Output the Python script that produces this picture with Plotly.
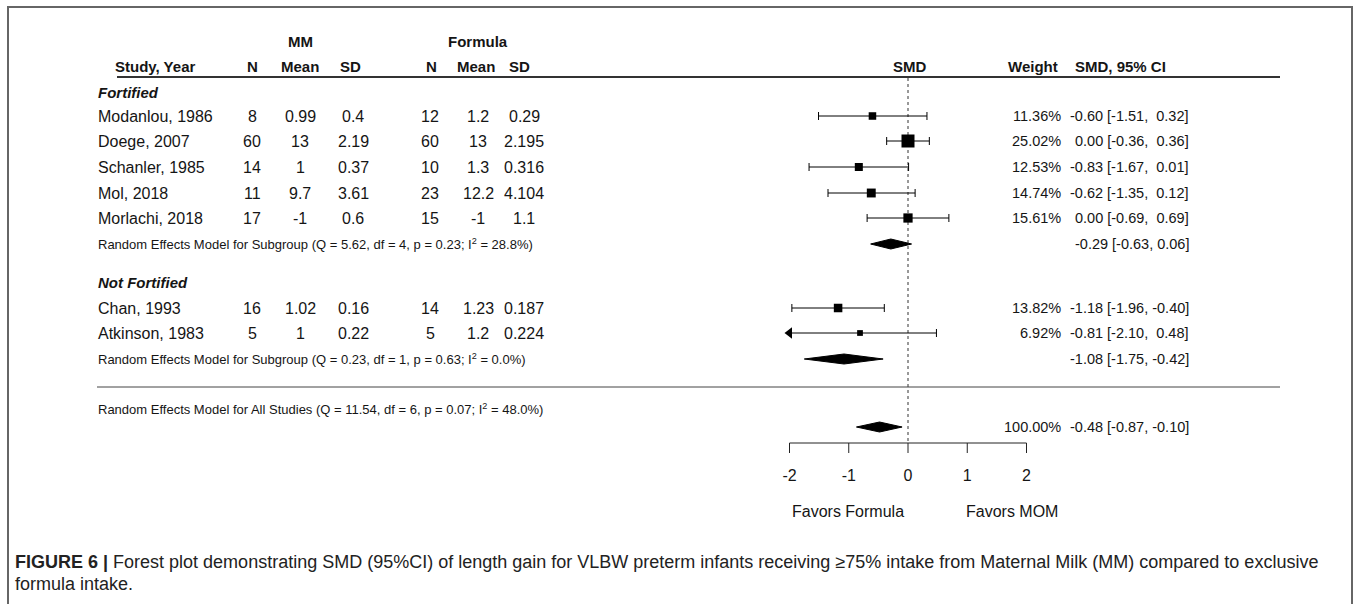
import plotly.graph_objects as go

# ---------------- data ----------------
studies = ["Modanlou, 1986", "Doege, 2007", "Schanler, 1985", "Mol, 2018",
           "Morlachi, 2018", "Chan, 1993", "Atkinson, 1983"]
group = ["Fortified"] * 5 + ["Not Fortified"] * 2
mm_n = [8, 60, 14, 11, 17, 16, 5]
mm_mean = [0.99, 13, 1, 9.7, -1, 1.02, 1]
mm_sd = [0.4, 2.19, 0.37, 3.61, 0.6, 0.16, 0.22]
f_n = [12, 60, 10, 23, 15, 14, 5]
f_mean = [1.2, 13, 1.3, 12.2, -1, 1.23, 1.2]
f_sd = [0.29, 2.195, 0.316, 4.104, 1.1, 0.187, 0.224]
weight = [11.36, 25.02, 12.53, 14.74, 15.61, 13.82, 6.92]
smd = [-0.60, 0.00, -0.83, -0.62, 0.00, -1.18, -0.81]
ci_lo = [-1.51, -0.36, -1.67, -1.35, -0.69, -1.96, -2.10]
ci_hi = [0.32, 0.36, 0.01, 0.12, 0.69, -0.40, 0.48]

sub_names = ["Fortified", "Not Fortified"]
sub_est = [-0.29, -1.08]
sub_lo = [-0.63, -1.75]
sub_hi = [0.06, -0.42]
sub_label = ["Random Effects Model for Subgroup (Q = 5.62, df = 4, p = 0.23; I<sup>2</sup> = 28.8%)",
             "Random Effects Model for Subgroup (Q = 0.23, df = 1, p = 0.63; I<sup>2</sup> = 0.0%)"]
all_est, all_lo, all_hi = -0.48, -0.87, -0.10
all_weight = 100.0
all_label = "Random Effects Model for All Studies (Q = 11.54, df = 6, p = 0.07; I<sup>2</sup> = 48.0%)"

tick_vals = [-2, -1, 0, 1, 2]
alim = (-2, 2)

# ---------------- layout helpers ----------------
W, H = 1357, 604
X0PX, UNIT = 908.0, 59.25          # pixel of SMD=0 and px per SMD unit
xr = [(0 - X0PX) / UNIT, (W - X0PX) / UNIT]


def P(px):
    return px / W


study_y = [116, 141, 167, 193, 218, 308, 333]
group_y = [92, 282]
sub_y = [244, 359]
all_text_y = 409
all_y = 427
axis_y = 443
FONT = "Liberation Sans, Arial, sans-serif"
TXT = "#151515"
INK = "#000000"
NB = "\u00a0"

fig = go.Figure()

# reference line
fig.add_trace(go.Scatter(x=[0, 0], y=[78, axis_y], mode="lines",
                         line=dict(color="#333", width=1, dash="dot"),
                         hoverinfo="skip", showlegend=False))

# CI lines
lx, ly, cx, cy, ax, ay = [], [], [], [], [], []
for e, lo, hi, y in zip(smd, ci_lo, ci_hi, study_y):
    a = max(lo, alim[0]); b = min(hi, alim[1])
    lx += [a, b, None]; ly += [y, y, None]
    for v, clipped in ((lo, lo < alim[0]), (hi, hi > alim[1])):
        if clipped:
            ax.append(a if v < alim[0] else b); ay.append(y)
        else:
            cx += [v, v, None]; cy += [y - 4, y + 4, None]
fig.add_trace(go.Scatter(x=lx, y=ly, mode="lines", line=dict(color=INK, width=1),
                         hoverinfo="skip", showlegend=False))
fig.add_trace(go.Scatter(x=cx, y=cy, mode="lines", line=dict(color=INK, width=1),
                         hoverinfo="skip", showlegend=False))
if ax:
    fig.add_trace(go.Scatter(x=ax, y=ay, mode="markers",
                             marker=dict(symbol="triangle-left", size=10, color=INK),
                             hoverinfo="skip", showlegend=False))

# squares
fig.add_trace(go.Scatter(x=smd, y=study_y, mode="markers",
                         marker=dict(symbol="square", color=INK, opacity=1,
                                     size=[3 + 0.4 * w for w in weight], line=dict(width=0)),
                         showlegend=False))


# diamonds
def diamond(est, lo, hi, y, h=5):
    fig.add_trace(go.Scatter(x=[lo, est, hi, est, lo], y=[y, y - h, y, y + h, y],
                             mode="lines", fill="toself", fillcolor=INK,
                             line=dict(color=INK, width=1), hoverinfo="skip",
                             showlegend=False))


for e, lo, hi, y in zip(sub_est, sub_lo, sub_hi, sub_y):
    diamond(e, lo, hi, y)
diamond(all_est, all_lo, all_hi, all_y)

# x axis (R style)
fig.add_trace(go.Scatter(x=[alim[0], alim[1]], y=[axis_y, axis_y], mode="lines",
                         line=dict(color="#222", width=1), hoverinfo="skip", showlegend=False))
tx, ty = [], []
for t in tick_vals:
    tx += [t, t, None]; ty += [axis_y, axis_y + 10, None]
fig.add_trace(go.Scatter(x=tx, y=ty, mode="lines", line=dict(color="#222", width=1),
                         hoverinfo="skip", showlegend=False))
fig.add_trace(go.Scatter(x=tick_vals, y=[477] * len(tick_vals), mode="text",
                         text=[str(t) for t in tick_vals],
                         textfont=dict(family=FONT, size=16, color=TXT),
                         hoverinfo="skip", showlegend=False))

ann = []


def T(txt, xpx, ypx, anchor="center", size=16, bold=False, italic=False, color=TXT):
    if bold:
        txt = "<b>" + txt + "</b>"
    if italic:
        txt = "<i>" + txt + "</i>"
    ann.append(dict(x=P(xpx), y=ypx, xref="paper", yref="y", text=txt, showarrow=False,
                    xanchor=anchor, yanchor="middle", borderpad=0,
                    font=dict(family=FONT, size=size, color=color)))


def ci_text(e, lo, hi, pad=True):
    sp = NB if (pad and hi >= 0) else ""
    return "{:.2f}{}[{:.2f},{}{}{:.2f}]".format(e, NB, lo, NB, sp, hi)


# headers
T("MM", 300, 41, bold=True, size=15)
T("Formula", 478, 41, bold=True, size=15)
for txt, xp in [("Study, Year", 155), ("N", 252), ("Mean", 300), ("SD", 350),
                ("N", 431), ("Mean", 476), ("SD", 519), ("SMD", 910),
                ("Weight", 1033), ("SMD, 95% CI", 1120)]:
    T(txt, xp, 66, bold=True, size=15)

for g, y in zip(sub_names, group_y):
    T(g, 97, y, anchor="left", bold=True, italic=True, size=15)

cols = [(mm_n, 252), (mm_mean, 300), (mm_sd, 353), (f_n, 430), (f_mean, 478), (f_sd, 524)]
for i, y in enumerate(study_y):
    T(studies[i], 97, y, anchor="left")
    for arr, xp in cols:
        T("{:g}".format(arr[i]), xp, y)
    T("{:.2f}%".format(weight[i]), 1062, y, anchor="right", size=14.5)
    T(ci_text(smd[i], ci_lo[i], ci_hi[i]), 1190, y, anchor="right", size=14.5)

for lab, e, lo, hi, y in zip(sub_label, sub_est, sub_lo, sub_hi, sub_y):
    T(lab, 97, y, anchor="left", size=13)
    T(ci_text(e, lo, hi, pad=False), 1190, y, anchor="right", size=14.5)

T(all_label, 97, all_text_y, anchor="left", size=13)
T("{:.2f}%".format(all_weight), 1062, all_y, anchor="right", size=14.5)
T(ci_text(all_est, all_lo, all_hi, pad=False), 1190, all_y, anchor="right", size=14.5)

T("Favors Formula", 848, 511)
T("Favors MOM", 1012, 511)

# caption
ann.append(dict(x=P(14), y=562, xref="paper", yref="y", showarrow=False,
                xanchor="left", yanchor="middle", borderpad=0,
                text="<b>FIGURE 6 |</b> Forest plot demonstrating SMD (95%CI) of length gain for VLBW preterm infants receiving ≥75% intake from Maternal Milk (MM) compared to exclusive",
                font=dict(family=FONT, size=18, color="#222")))
ann.append(dict(x=P(14), y=584, xref="paper", yref="y", showarrow=False,
                xanchor="left", yanchor="middle", borderpad=0, text="formula intake.",
                font=dict(family=FONT, size=18, color="#222")))

shapes = [
    dict(type="line", xref="paper", yref="y", x0=P(117), x1=P(1280), y0=77, y1=77,
         line=dict(color="#333", width=2)),
    dict(type="line", xref="paper", yref="y", x0=P(97), x1=P(1280), y0=387, y1=387,
         line=dict(color="#444", width=1)),
    dict(type="rect", xref="paper", yref="y", x0=P(8), x1=P(1352), y0=7, y1=640,
         line=dict(color="#666", width=2)),
]

fig.update_layout(
    width=W, height=H, autosize=False,
    margin=dict(l=0, r=0, t=0, b=0),
    paper_bgcolor="white", plot_bgcolor="white",
    xaxis=dict(range=xr, visible=False, fixedrange=True),
    yaxis=dict(range=[H, 0], visible=False, fixedrange=True),
    annotations=ann, shapes=shapes, showlegend=False,
)
fig.write_html("out.html", config={"displayModeBar": False, "staticPlot": True},
               post_script="document.body.style.margin='0';document.body.style.overflow='hidden';")
